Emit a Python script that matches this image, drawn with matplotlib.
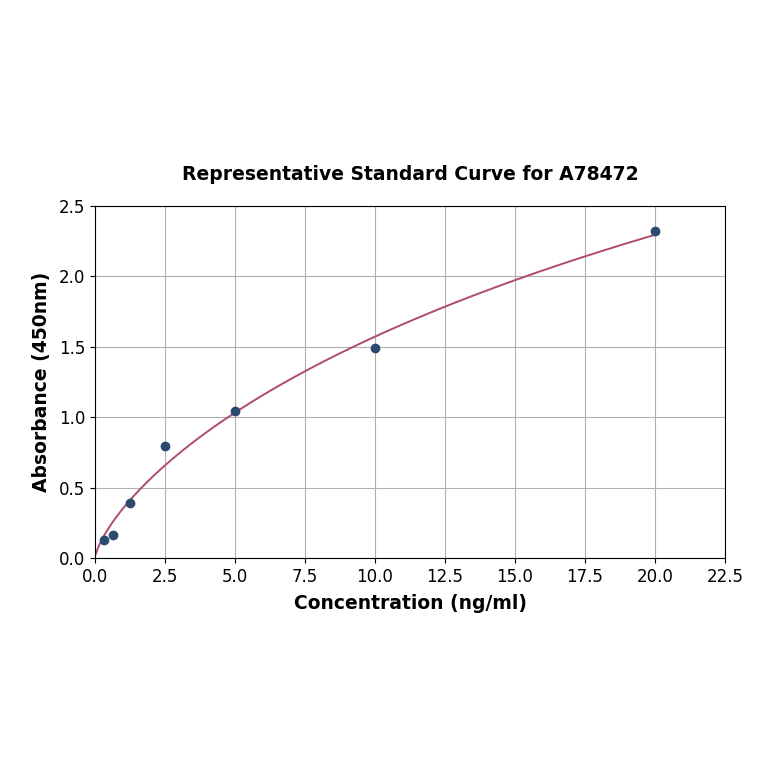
import numpy as np
import matplotlib
matplotlib.use("Agg")
import matplotlib.pyplot as plt

conc = [0.3125, 0.625, 1.25, 2.5, 5.0, 10.0, 20.0]
absorb = [0.128, 0.163, 0.39, 0.795, 1.044, 1.494, 2.32]

x_ticks = [0.0, 2.5, 5.0, 7.5, 10.0, 12.5, 15.0, 17.5, 20.0, 22.5]
y_ticks = [0.0, 0.5, 1.0, 1.5, 2.0, 2.5]

# 4PL fit with lower asymptote at 0 (grid over b, c; linear solve for d)
xd = np.array(conc)
yd = np.array(absorb)
best = None
for b in np.linspace(0.3, 2.0, 171):
    for c in np.logspace(-0.5, 3.5, 241):
        g = xd**b / (c**b + xd**b)
        d = np.dot(g, yd) / np.dot(g, g)
        sse = np.sum((d * g - yd) ** 2)
        if best is None or sse < best[0]:
            best = (sse, b, c, d)
_, fb, fc, fd = best

xs = np.linspace(0.03, 20.0, 400)
ys = fd * xs**fb / (fc**fb + xs**fb)

fig = plt.figure(figsize=(7.64, 7.64), dpi=100)
ax = fig.add_axes([95/764, 1-558/764, 630/764, 352/764])
ax.plot(xs, ys, color="#b04a6e", lw=1.4, zorder=2)
ax.scatter(conc, absorb, color="#2b4a6e", s=36, zorder=3)
ax.set_xlim(0, 22.5)
ax.set_ylim(0, 2.5)
ax.set_xticks(x_ticks)
ax.set_yticks(y_ticks)
ax.set_xticklabels([f"{v:.1f}" for v in x_ticks])
ax.set_yticklabels([f"{v:.1f}" for v in y_ticks])
ax.tick_params(labelsize=12)
ax.grid(True, color="#b0b0b0", lw=0.8)
ax.set_axisbelow(True)
ax.set_xlabel("Concentration (ng/ml)", fontsize=13.5, fontweight="bold", labelpad=6)
ax.set_ylabel("Absorbance (450nm)", fontsize=13.5, fontweight="bold", labelpad=6)
ax.set_title("Representative Standard Curve for A78472", fontsize=13.5, fontweight="bold", pad=19)
fig.savefig("out.png", dpi=100)
